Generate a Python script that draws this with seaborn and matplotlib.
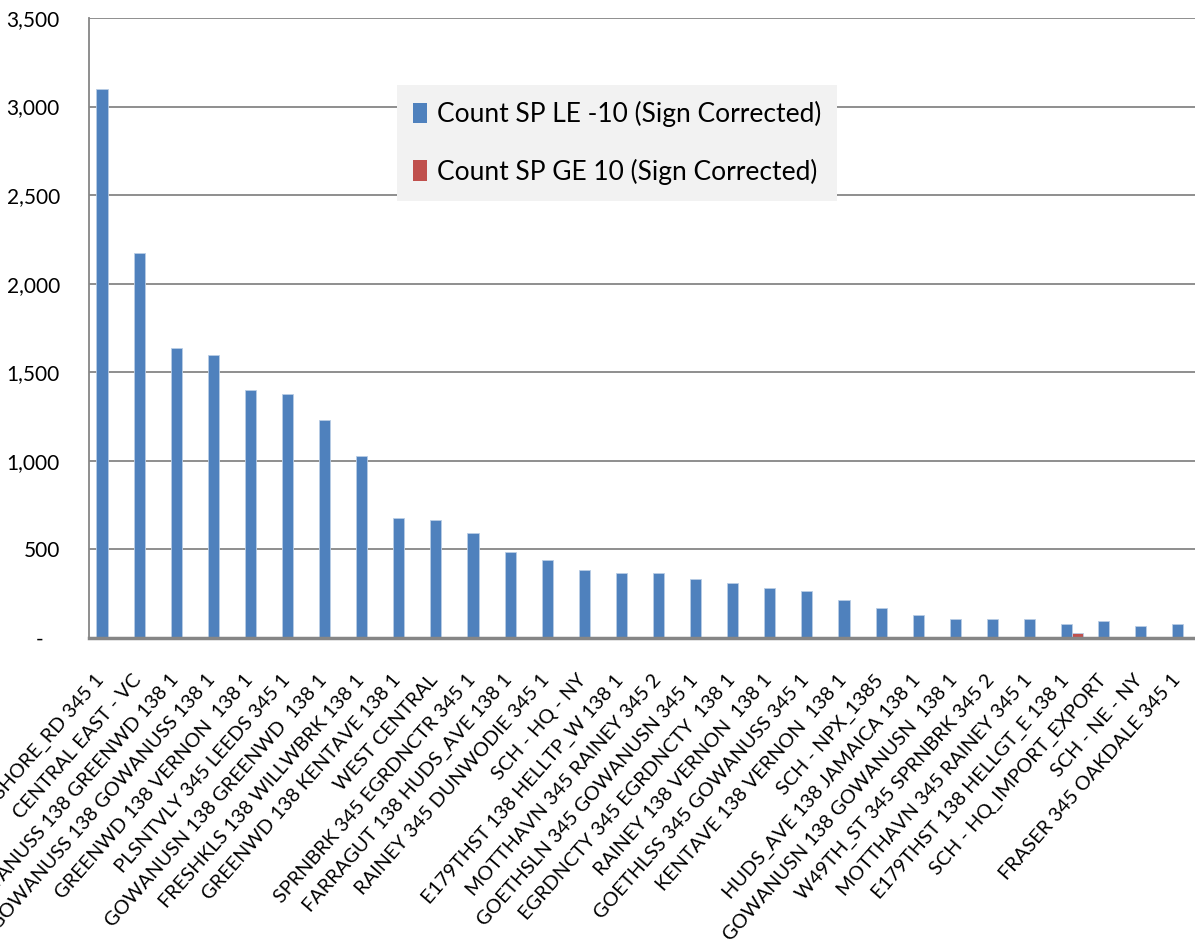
import matplotlib
matplotlib.use("Agg")
import matplotlib.pyplot as plt
import matplotlib.ticker as mticker
from matplotlib.patches import Patch
import pandas as pd
import seaborn as sns

constraints = [
    "DUNWODIE 345 SHORE_RD 345 1", "CENTRAL EAST - VC", "GOWANUSS 138 GREENWD 138 1",
    "GOWANUSS 138 GOWANUSS 138 1", "GREENWD 138 VERNON  138 1", "PLSNTVLY 345 LEEDS 345 1",
    "GOWANUSN 138 GREENWD  138 1", "FRESHKLS 138 WILLWBRK 138 1", "GREENWD 138 KENTAVE 138 1",
    "WEST CENTRAL", "SPRNBRK 345 EGRDNCTR 345 1", "FARRAGUT 138 HUDS_AVE 138 1",
    "RAINEY 345 DUNWODIE 345 1", "SCH - HQ - NY", "E179THST 138 HELLTP_W 138 1",
    "MOTTHAVN 345 RAINEY 345 2", "GOETHSLN 345 GOWANUSN 345 1", "EGRDNCTY 345 EGRDNCTY  138 1",
    "RAINEY 138 VERNON  138 1", "GOETHLSS 345 GOWANUSS 345 1", "KENTAVE 138 VERNON  138 1",
    "SCH - NPX_1385", "HUDS_AVE 138 JAMAICA 138 1", "GOWANUSN 138 GOWANUSN  138 1",
    "W49TH_ST 345 SPRNBRK 345 2", "MOTTHAVN 345 RAINEY 345 1", "E179THST 138 HELLGT_E 138 1",
    "SCH - HQ_IMPORT_EXPORT", "SCH - NE - NY", "FRASER 345 OAKDALE 345 1",
]
count_le = [3100, 2175, 1635, 1595, 1400, 1380, 1230, 1027, 675, 665,
            590, 485, 443, 386, 365, 365, 332, 310, 280, 268,
            215, 172, 130, 110, 110, 110, 77, 98, 66, 77]
count_ge = [0, 0, 0, 0, 0, 0, 0, 0, 0, 0,
            0, 0, 0, 3, 3, 0, 0, 0, 0, 0,
            0, 0, 0, 0, 0, 0, 26, 0, 3, 0]
series = ["Count SP LE -10 (Sign Corrected)", "Count SP GE 10 (Sign Corrected)"]
colors = ["#4F81BD", "#C0504D"]

df = pd.DataFrame({
    "constraint": constraints * 2,
    "count": count_le + count_ge,
    "series": [series[0]] * len(constraints) + [series[1]] * len(constraints),
})

sns.set_style("white")
font = ["Lato", "DejaVu Sans"]
plt.rcParams["font.family"] = font
plt.rcParams["text.color"] = "black"

fig = plt.figure(figsize=(11.95, 9.39), dpi=100)
ax = fig.add_axes([89 / 1195, (939 - 638) / 939, 1113 / 1195, 620 / 939])

sns.barplot(data=df, x="constraint", y="count", hue="series", palette=colors,
            width=0.6, gap=0, ax=ax, legend=False, saturation=1,
            edgecolor="#B9CDE5", linewidth=0.6)

ax.set_ylim(0, 3500)
ax.set_xlim(-0.5, len(constraints) - 0.5)
ax.yaxis.set_major_locator(mticker.MultipleLocator(500))
ax.yaxis.set_major_formatter(mticker.FuncFormatter(
    lambda v, p: "-   " if v == 0 else f"{v:,.0f}"))
ax.grid(axis="y", color="#868686", linewidth=1.3)
ax.set_axisbelow(True)

for s in ["top", "right"]:
    ax.spines[s].set_visible(False)
ax.spines["left"].set_color("#868686")
ax.spines["left"].set_linewidth(1.3)
ax.spines["bottom"].set_color("#868686")
ax.spines["bottom"].set_linewidth(2.5)

ax.tick_params(axis="y", length=8, width=1.3, color="#868686", labelcolor="black",
               pad=13, labelsize=15)
ax.set_xticks(range(len(constraints)))
ax.set_xticklabels(constraints, rotation=49, ha="right", rotation_mode="default", fontsize=14.3)
ax.tick_params(axis="x", which="major", length=0, pad=24, labelcolor="black")
ax.set_xticks([i - 0.5 for i in range(len(constraints) + 1)], minor=True)
ax.tick_params(axis="x", which="minor", length=7, width=1.3, color="#868686")
ax.set_xlabel("")
ax.set_ylabel("")

handles = [Patch(facecolor=c, edgecolor="none") for c in colors]
leg = ax.legend(handles, series, loc="upper left", bbox_to_anchor=(397 / 1195, 1 - 85 / 939),
                bbox_transform=fig.transFigure, frameon=True, fancybox=False,
                facecolor="#F2F2F2", edgecolor="none", framealpha=1,
                prop={"family": font, "size": 19}, labelspacing=1.2,
                handlelength=0.55, handleheight=0.8, handletextpad=0.35,
                borderpad=0.6, borderaxespad=0)

fig.savefig("out.png", dpi=100)
